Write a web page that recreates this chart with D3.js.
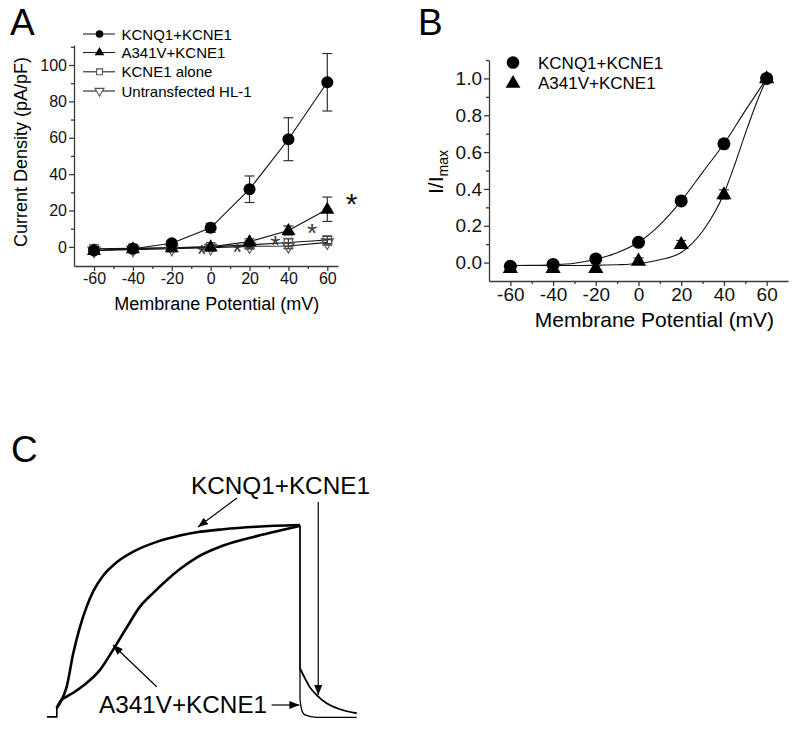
<!DOCTYPE html>
<html>
<head>
<meta charset="utf-8">
<script src="https://cdn.jsdelivr.net/npm/d3@7"></script>
<style>
  html, body { margin: 0; padding: 0; background: #fff; }
  svg { display: block; font-family: "Liberation Sans", Arial, sans-serif; }
</style>
</head>
<body>
<svg id="chart" width="800" height="729"></svg>
<script>
// ---------------- DATA ----------------
// Panel A: current density vs membrane potential
const voltages = [-60, -40, -20, 0, 20, 40, 60];
const kcnq1Density = [-2, -1, 2, 10.5, 31.7, 59.2, 90.5];
const kcnq1DensityErr = [1, 1, 1.5, 2.5, 7.3, 11.8, 15.8];
const a341vDensity = [-2, -1, -0.5, 0, 2.9, 9, 20.7];
const a341vDensityErr = [1, 1, 1, 1, 1.5, 2.5, 6.7];
const kcne1Density = [-1, -0.8, -0.5, 0, 1.1, 2.4, 3.8];
const kcne1DensityErr = [1.2, 1.2, 1.2, 1.2, 1.5, 2, 2];
const untransDensity = [-2, -1.5, -1, -0.5, 0.3, 0.5, 2.5];
const untransDensityErr = [1.2, 1.2, 1.2, 1.2, 1.2, 1.5, 1.5];
const seriesNamesA = ["KCNQ1+KCNE1", "A341V+KCNE1", "KCNE1 alone", "Untransfected HL-1"];
const asteriskV = [-4.6, 13.7, 33.2, 52.2, 72.5];
const asteriskI = [-0.7, 0.7, 4.2, 11.2, 27.3];
const xTicksMajor = [-60, -40, -20, 0, 20, 40, 60];
const xTicksMinor = [-50, -30, -10, 10, 30, 50];
const yTicksA = [0, 20, 40, 60, 80, 100];
const yTicksAMinor = [10, 30, 50, 70, 90, 110];

// Panel B: normalized I/Imax
const kcnq1Norm = [-0.02, -0.01, 0.02, 0.11, 0.335, 0.645, 1.0];
const kcnq1NormErr = [0.01, 0.01, 0.01, 0.012, 0.02, 0.015, 0.01];
const a341vNorm = [-0.03, -0.03, -0.03, 0.01, 0.10, 0.37, 1.0];
const a341vNormErr = [0.015, 0.015, 0.015, 0.015, 0.02, 0.025, 0.01];
const seriesNamesB = ["KCNQ1+KCNE1", "A341V+KCNE1"];
// fitted curves
const kcnq1FitV = [-60, -50, -40, -30, -20, -10, 0, 10, 20, 30, 40, 50, 60];
const kcnq1FitI = [-0.016, -0.015, -0.012, -0.004, 0.018, 0.053, 0.11, 0.205, 0.335, 0.49, 0.645, 0.825, 1.0];
const a341vFitV = [-60, -40, -20, -10, 0, 10, 20, 30, 40, 45, 50, 55, 60];
const a341vFitI = [-0.016, -0.016, -0.015, -0.012, -0.005, 0.015, 0.055, 0.17, 0.375, 0.53, 0.70, 0.86, 1.0];
const yTicksB = [0, 0.2, 0.4, 0.6, 0.8, 1.0];
const yTicksBMinor = [0.1, 0.3, 0.5, 0.7, 0.9, 1.1];

// Panel C: current traces (time in s, normalized current)
const baseT = [-0.16, 0];
const baseI = [0, 0];
const kcnq1ActT = [0, 0.054, 0.164, 0.273, 0.383, 0.493, 0.602, 0.766, 0.986, 1.259, 1.644, 2.027, 2.30, 2.739, 3.288, 4.0];
const kcnq1ActI = [0.045, 0.071, 0.156, 0.332, 0.469, 0.574, 0.655, 0.737, 0.806, 0.861, 0.912, 0.945, 0.962, 0.978, 0.991, 1.0];
const kcnq1TailT = [4.0, 4.082, 4.164, 4.274, 4.438, 4.658, 4.932];
const kcnq1TailI = [0.252, 0.2, 0.153, 0.113, 0.07, 0.039, 0.018];
const a341vActT = [0, 0.054, 0.164, 0.273, 0.45, 0.712, 0.93, 1.151, 1.369, 1.588, 1.808, 2.027, 2.30, 2.739, 3.288, 3.725, 4.0];
const a341vActI = [0.045, 0.078, 0.105, 0.125, 0.165, 0.244, 0.35, 0.465, 0.574, 0.646, 0.712, 0.77, 0.83, 0.893, 0.942, 0.975, 0.995];
const a341vTailT = [4.0, 4.028, 4.082, 4.274, 4.932];
const a341vTailI = [0.09, 0.035, 0.009, -0.003, -0.003];
const arrowsC = [
  { from: [2.964, 1.141], to: [2.323, 0.99] },
  { from: [4.30, 1.12], to: [4.30, 0.113] },
  { from: [1.644, 0.156], to: [0.926, 0.374] },
  { from: [3.534, 0.061], to: [3.99, 0.061] }
];
const labelsC = [
  { text: "KCNQ1+KCNE1", at: [2.208, 1.162] },
  { text: "A341V+KCNE1", at: [0.695, 0.018] }
];
const panelLabels = ["A", "B", "C"];

// ---------------- DRAW ----------------
const svg = d3.select("#chart");
const axisColor = "#3a3a3a";

// panel letters
const panelPos = [[10, 35], [418, 35], [11, 462]];
svg.selectAll("text.panel").data(panelLabels).join("text")
  .attr("class", "panel")
  .attr("x", (d, i) => panelPos[i][0]).attr("y", (d, i) => panelPos[i][1])
  .attr("font-size", 37).attr("fill", "#000").text(d => d);

function drawAxes(g, x, y, opt) {
  const fmtX = d => String(d);
  const xAxis = g.append("g").attr("transform", `translate(0,${opt.y0})`)
    .call(d3.axisBottom(x).tickValues(xTicksMajor).tickSize(5).tickSizeOuter(0).tickPadding(opt.padX).tickFormat(fmtX));
  const xMinor = g.append("g").attr("transform", `translate(0,${opt.y0})`)
    .call(d3.axisBottom(x).tickValues(xTicksMinor).tickSize(3).tickFormat(""));
  xMinor.select(".domain").remove();
  const yAxis = g.append("g").attr("transform", `translate(${opt.x0},0)`)
    .call(d3.axisLeft(y).tickValues(opt.yMajor).tickSize(5).tickSizeOuter(0).tickPadding(2).tickFormat(opt.fmtY));
  const yMinor = g.append("g").attr("transform", `translate(${opt.x0},0)`)
    .call(d3.axisLeft(y).tickValues(opt.yMinor).tickSize(3).tickFormat(""));
  yMinor.select(".domain").remove();
  [xAxis, xMinor, yAxis, yMinor].forEach(a => {
    a.selectAll("path, line").attr("stroke", axisColor).attr("stroke-width", 1.3);
    a.selectAll("text").attr("font-size", opt.fs).attr("fill", "#111")
      .attr("font-family", "Liberation Sans, Arial, sans-serif");
  });
}

function errBars(g, x, y, vals, errs, cap) {
  const eb = g.append("g").attr("stroke", "#333").attr("stroke-width", 1.2);
  voltages.forEach((v, i) => {
    const cx = x(v), y1 = y(vals[i] + errs[i]), y2 = y(vals[i] - errs[i]);
    eb.append("line").attr("x1", cx).attr("x2", cx).attr("y1", y1).attr("y2", y2);
    eb.append("line").attr("x1", cx - cap).attr("x2", cx + cap).attr("y1", y1).attr("y2", y1);
    eb.append("line").attr("x1", cx - cap).attr("x2", cx + cap).attr("y1", y2).attr("y2", y2);
  });
}

// ---------- Panel A ----------
const gA = svg.append("g");
const xA = d3.scaleLinear().domain([-70.3, 65.5]).range([74, 338]);
const yA = d3.scaleLinear().domain([-10.5, 111]).range([266, 45]);
drawAxes(gA, xA, yA, { y0: 266, x0: 74, yMajor: yTicksA, yMinor: yTicksAMinor, fmtY: d => String(d), fs: 16, padX: 2 });

gA.append("text").attr("x", 216.7).attr("y", 310).attr("text-anchor", "middle")
  .attr("font-size", 18).text("Membrane Potential (mV)");
gA.append("text").attr("transform", "translate(27,152) rotate(-90)").attr("text-anchor", "middle")
  .attr("font-size", 18).text("Current Density (pA/pF)");

const seriesA = [
  { vals: untransDensity, errs: untransDensityErr, sym: "down" },
  { vals: kcne1Density, errs: kcne1DensityErr, sym: "square" },
  { vals: a341vDensity, errs: a341vDensityErr, sym: "tri" },
  { vals: kcnq1Density, errs: kcnq1DensityErr, sym: "circle" }
];
const lineA = d3.line().x((d) => xA(d[0])).y(d => yA(d[1]));
seriesA.forEach(s => {
  gA.append("path").attr("d", lineA(voltages.map((v, i) => [v, s.vals[i]])))
    .attr("fill", "none").attr("stroke", "#111").attr("stroke-width", 1.1);
});
seriesA.forEach(s => errBars(gA, xA, yA, s.vals, s.errs, 5));

function marker(g, type, cx, cy, big) {
  if (type === "circle") {
    g.append("circle").attr("cx", cx).attr("cy", cy).attr("r", big ? 6 : 3.8).attr("fill", "#000");
  } else if (type === "tri") {
    g.append("path").attr("d", d3.symbol(d3.symbolTriangle, big ? 85 : 40)())
      .attr("transform", `translate(${cx},${cy + (big ? 0.5 : 0)})`).attr("fill", "#000");
  } else if (type === "square") {
    g.append("path").attr("d", d3.symbol(d3.symbolSquare, big ? 72 : 34)())
      .attr("transform", `translate(${cx},${cy})`).attr("fill", big ? "none" : "#fff")
      .attr("stroke", "#555").attr("stroke-width", 1.1);
  } else if (type === "down") {
    g.append("path").attr("d", d3.symbol(d3.symbolTriangle, big ? 66 : 36)())
      .attr("transform", `translate(${cx},${cy}) rotate(180)`).attr("fill", big ? "none" : "#fff")
      .attr("stroke", "#555").attr("stroke-width", 1.1);
  }
}
seriesA.forEach(s => voltages.forEach((v, i) => marker(gA, s.sym, xA(v), yA(s.vals[i]), true)));

// asterisks
gA.selectAll("text.ast").data(asteriskV).join("text").attr("class", "ast")
  .attr("x", d => xA(d)).attr("y", (d, i) => yA(asteriskI[i]))
  .attr("dy", (d, i) => i === 4 ? 17 : 15)
  .attr("text-anchor", "middle")
  .attr("font-size", (d, i) => i === 4 ? 30 : 26)
  .attr("fill", (d, i) => i === 4 ? "#111" : "#333")
  .text("*");

// legend A
const legSyms = ["circle", "tri", "square", "down"];
const legY = [34, 52.5, 71.8, 91];
seriesNamesA.forEach((name, i) => {
  gA.append("line").attr("x1", 83).attr("x2", 115).attr("y1", legY[i]).attr("y2", legY[i])
    .attr("stroke", "#222").attr("stroke-width", 1.1);
  marker(gA, legSyms[i], 99.5, legY[i], false);
  gA.append("text").attr("x", 121.5).attr("y", legY[i] + 5.5).attr("font-size", 15).text(name);
});

// ---------- Panel B ----------
const gB = svg.append("g");
const xB = d3.scaleLinear().domain([-70, 70]).range([489, 788]);
const yB = d3.scaleLinear().domain([-0.1, 1.1]).range([281, 60]);
drawAxes(gB, xB, yB, { y0: 281, x0: 489, yMajor: yTicksB, yMinor: yTicksBMinor, fmtY: d3.format(".1f"), fs: 19, padX: 2 });

gB.append("text").attr("x", 654.5).attr("y", 327).attr("text-anchor", "middle")
  .attr("font-size", 21).text("Membrane Potential (mV)");
const yl = gB.append("text").attr("transform", "translate(443,172) rotate(-90)").attr("text-anchor", "middle")
  .attr("font-size", 21);
yl.append("tspan").text("I/I");
yl.append("tspan").attr("font-size", 14).attr("dy", 5).text("max");

const lineFit = d3.line().x(d => xB(d[0])).y(d => yB(d[1])).curve(d3.curveMonotoneX);
gB.append("path").attr("d", lineFit(kcnq1FitV.map((v, i) => [v, kcnq1FitI[i]])))
  .attr("fill", "none").attr("stroke", "#111").attr("stroke-width", 1.1);
gB.append("path").attr("d", lineFit(a341vFitV.map((v, i) => [v, a341vFitI[i]])))
  .attr("fill", "none").attr("stroke", "#111").attr("stroke-width", 1.1);

errBars(gB, xB, yB, a341vNorm, a341vNormErr, 5);
errBars(gB, xB, yB, kcnq1Norm, kcnq1NormErr, 5);
voltages.forEach((v, i) => {
  gB.append("path").attr("d", d3.symbol(d3.symbolTriangle, 100)())
    .attr("transform", `translate(${xB(v)},${yB(a341vNorm[i]) + 0.5})`).attr("fill", "#000");
});
voltages.forEach((v, i) => {
  gB.append("circle").attr("cx", xB(v)).attr("cy", yB(kcnq1Norm[i])).attr("r", 6.5).attr("fill", "#000");
});
// legend B
gB.append("circle").attr("cx", 513).attr("cy", 62.5).attr("r", 6.3).attr("fill", "#000");
gB.append("path").attr("d", d3.symbol(d3.symbolTriangle, 95)()).attr("transform", "translate(513,83.5)").attr("fill", "#000");
gB.append("text").attr("x", 538).attr("y", 68.6).attr("font-size", 17).text(seriesNamesB[0]);
gB.append("text").attr("x", 538).attr("y", 89.4).attr("font-size", 17).text(seriesNamesB[1]);

// ---------- Panel C ----------
const gC = svg.append("g");
const xC = d3.scaleLinear().domain([0, 4]).range([56.7, 300]);
const yC = d3.scaleLinear().domain([0, 1]).range([716.7, 525]);
const lin = d3.line().x(d => xC(d[0])).y(d => yC(d[1]));
const smooth = d3.line().x(d => xC(d[0])).y(d => yC(d[1])).curve(d3.curveMonotoneX);
const zip = (a, b) => a.map((t, i) => [t, b[i]]);

function trace(actT, actI, tailT, tailI, wAct, wTail) {
  const act = zip(actT, actI), tail = zip(tailT, tailI);
  gC.append("path").attr("d", lin(zip(baseT, baseI).concat([act[0]])))
    .attr("fill", "none").attr("stroke", "#000").attr("stroke-width", 1.4);
  gC.append("path").attr("d", smooth(act)).attr("fill", "none").attr("stroke", "#000")
    .attr("stroke-width", wAct).attr("stroke-linejoin", "round");
  gC.append("path").attr("d", lin([act[act.length - 1], tail[0]])).attr("fill", "none")
    .attr("stroke", "#000").attr("stroke-width", 1.3);
  gC.append("path").attr("d", smooth(tail)).attr("fill", "none").attr("stroke", "#000")
    .attr("stroke-width", wTail);
}
trace(a341vActT, a341vActI, a341vTailT, a341vTailI, 2.6, 1.3);
trace(kcnq1ActT, kcnq1ActI, kcnq1TailT, kcnq1TailI, 2.6, 1.8);

svg.append("defs").append("marker").attr("id", "ah")
  .attr("markerUnits", "userSpaceOnUse").attr("markerWidth", 10).attr("markerHeight", 8)
  .attr("refX", 10).attr("refY", 4).attr("orient", "auto")
  .append("path").attr("d", "M0,0 L10,4 L0,8 Z").attr("fill", "#000");
arrowsC.forEach(a => {
  gC.append("line").attr("x1", xC(a.from[0])).attr("y1", yC(a.from[1]))
    .attr("x2", xC(a.to[0])).attr("y2", yC(a.to[1]))
    .attr("stroke", "#000").attr("stroke-width", 1.2).attr("marker-end", "url(#ah)");
});
labelsC.forEach(l => {
  gC.append("text").attr("x", xC(l.at[0])).attr("y", yC(l.at[1])).attr("font-size", 24.3).text(l.text);
});
</script>
</body>
</html>
